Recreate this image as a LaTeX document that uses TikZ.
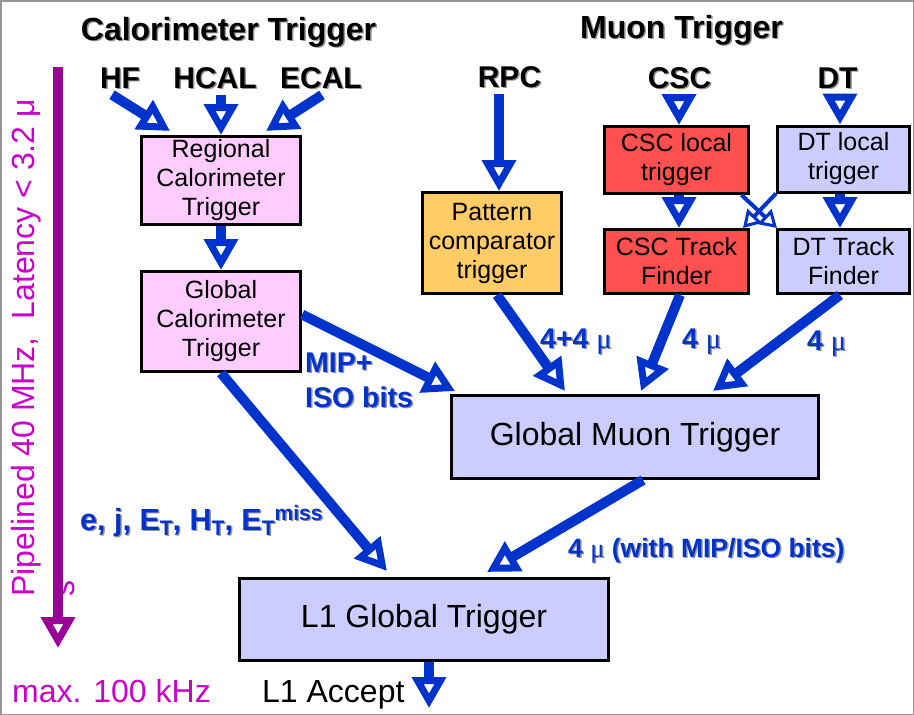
\documentclass[tikz,border=0pt]{standalone}
\usepackage{fontspec}
\setmainfont{Liberation Sans}
\newfontfamily\greekfont{Liberation Serif}
\usepackage{tikz}
\usetikzlibrary{arrows.meta}
\definecolor{arrowblue}{RGB}{0,51,204}
\definecolor{latpurple}{RGB}{153,0,153}
\definecolor{latmagenta}{RGB}{204,0,204}
\definecolor{calopink}{RGB}{255,204,255}
\definecolor{rpcorange}{RGB}{255,204,102}
\definecolor{cscred}{RGB}{255,80,80}
\definecolor{dtblue}{RGB}{204,204,255}
\definecolor{shadowgray}{RGB}{150,150,150}
\newcommand{\muchar}{{\greekfont\mdseries μ}}
\newcommand{\shtext}[1]{\makebox[0pt][l]{\hspace{1.5pt}\raisebox{-1.5pt}{\color{shadowgray}#1}}#1}
\newcommand{\lowT}{\raisebox{-5pt}{\fontsize{21}{21}\selectfont T}}
\newcommand{\blockfont}{\fontsize{25}{29}\selectfont}
\newcommand{\bigblockfont}{\fontsize{32}{36}\selectfont}
\newcommand{\headfont}{\fontsize{32}{36}\selectfont\bfseries}
\newcommand{\srcfont}{\fontsize{30}{34}\selectfont\bfseries}
\newcommand{\tagfont}{\fontsize{28.5}{35}\selectfont\bfseries}
\tikzstyle{block} = [rectangle, draw=black, line width=3pt, text centered,
align=center, inner sep=0pt, font=\blockfont]
\tikzstyle{calo} = [block, fill=calopink]
\tikzstyle{rpcbox} = [block, fill=rpcorange]
\tikzstyle{cscbox} = [block, fill=cscred]
\tikzstyle{dtbox} = [block, fill=dtblue]
\tikzstyle{globalbox} = [block, fill=dtblue, font=\bigblockfont]
\tikzstyle{headline} = [font=\headfont, inner sep=0pt, anchor=base]
\tikzstyle{source} = [font=\srcfont, inner xsep=0pt, inner ysep=5pt, anchor=base]
\tikzstyle{flowtag} = [font=\tagfont, text=arrowblue, inner sep=0pt, anchor=base west, align=left]
\tikzstyle{flow} = [line width=10pt, arrowblue,
-{Triangle[open, length=31pt, width=33pt, line width=7pt]}]
\tikzstyle{crossflow} = [line width=4pt, arrowblue,
-{Triangle[open, length=17pt, width=20pt, line width=3pt]}]
\tikzstyle{latarrow} = [line width=10pt, latpurple,
-{Triangle[open, length=31pt, width=33pt, line width=7pt]}]

\begin{document}
\begin{tikzpicture}[x=1pt, y=-1pt]
\useasboundingbox (0,0) rectangle (914,715);
\draw[shadowgray, line width=1.5pt] (0.75,0.75) rectangle (913.25,714.25);
%Headlines and sources
\node (calohead) [headline] at (228.5,40) {\shtext{Calorimeter Trigger}};
\node (muonhead) [headline] at (681.5,38) {\shtext{Muon Trigger}};
\node (hf) [source] at (120,88) {\shtext{HF}};
\node (hcal) [source] at (215,88) {\shtext{HCAL}};
\node (ecal) [source] at (321,88) {\shtext{ECAL}};
\node (rpc) [source] at (509.5,87) {\shtext{RPC}};
\node (csc) [source] at (679.5,88) {\shtext{CSC}};
\node (dt) [source] at (837.5,88) {\shtext{DT}};
%The blocks
\node (rct) [calo, minimum width=159pt, minimum height=88pt] at (221,180.5) {Regional\\Calorimeter\\Trigger};
\node (gct) [calo, minimum width=159pt, minimum height=100pt] at (221,321.5) {Global\\Calorimeter\\Trigger};
\node (pct) [rpcbox, minimum width=139pt, minimum height=101pt] at (492,243) {Pattern\\comparator\\trigger};
\node (csclt) [cscbox, minimum width=144pt, minimum height=67pt] at (676.5,160) {CSC local\\trigger};
\node (dtlt) [dtbox, minimum width=132pt, minimum height=66pt] at (843.5,159) {DT local\\trigger};
\node (csctf) [cscbox, minimum width=144pt, minimum height=64pt] at (676.5,261.5) {CSC Track\\Finder};
\node (dttf) [dtbox, minimum width=132pt, minimum height=64pt] at (843.5,261.5) {DT Track\\Finder};
\node (gmt) [globalbox, minimum width=367pt, minimum height=83pt] at (635,437) {Global Muon Trigger};
\node (l1) [globalbox, minimum width=369pt, minimum height=82pt] at (424,619.5) {L1 Global Trigger};
\coordinate (l1acc) at (429,708);
\coordinate (lattop) at (58,67);
\coordinate (latbot) at (58,648);
% Labels on the arrows
\node (mipiso) [flowtag] at (305,407) {\shtext{MIP+}\\\shtext{ISO bits}};
\node (calobits) [flowtag, font=\fontsize{30.5}{35}\selectfont\bfseries] at (80,530) {\shtext{e, j, E\lowT, H\lowT, E\lowT\raisebox{10pt}{\fontsize{21}{21}\selectfont miss}}};
\node (rpcmu) [flowtag] at (540,348) {\shtext{4+4 \muchar}};
\node (cscmu) [flowtag] at (682,348) {\shtext{4 \muchar}};
\node (dtmu) [flowtag] at (807,350) {\shtext{4 \muchar}};
\node (gmtmu) [flowtag, font=\fontsize{26.5}{30}\selectfont\bfseries] at (568,557) {\shtext{4 \muchar{} (with MIP/ISO bits)}};
% Rate and latency
\node (latency) [rotate=90, anchor=north west, align=left, inner sep=0pt, text=latmagenta,
font=\fontsize{32}{40}\selectfont] at (11,597) {Pipelined 40 MHz,~~Latency < 3.2 μ\\s};
\node (rate) [anchor=base west, inner sep=0pt, text=latmagenta, font=\fontsize{32}{36}\selectfont] at (12,702) {max. 100 kHz};
\node (accept) [anchor=base west, inner sep=0pt, font=\fontsize{32}{36}\selectfont] at (262,702) {L1 Accept};
% Drawing the arrows between blocks
\draw[latarrow] (lattop) -- (latbot);
\draw[flow] ([xshift=-8pt]hf.south) -- ([xshift=-51pt,yshift=4pt]rct.north);
\draw[flow] ([xshift=6pt]hcal.south) -- (rct.north);
\draw[flow] ([xshift=1pt]ecal.south) -- ([xshift=45pt,yshift=4pt]rct.north);
\draw[flow] (rct.south) -- (gct.north);
\draw[flow] ([yshift=7pt]gct.east) -- ([xshift=5pt,yshift=3pt]gmt.north west);
\draw[flow] (gct.south) -- ([xshift=-37pt,yshift=6pt]l1.north);
\draw[flow] ([xshift=-10.5pt]rpc.south) -- ([xshift=7pt]pct.north);
\draw[flow] ([xshift=-0.5pt]csc.south) -- ([xshift=2.5pt]csclt.north);
\draw[flow] ([xshift=2.5pt]dt.south) -- ([xshift=-3.5pt]dtlt.north);
\draw[flow] ([xshift=2.5pt]csclt.south) -- ([xshift=2.5pt]csctf.north);
\draw[flow] ([xshift=-3.5pt]dtlt.south) -- ([xshift=-3.5pt]dttf.north);
\draw[crossflow] ([xshift=-8.5pt]csclt.south east) -- ([xshift=1pt]dttf.north west);
\draw[crossflow] (dtlt.south west) -- ([xshift=-7pt]csctf.north east);
\draw[flow] ([xshift=5pt]pct.south) -- ([xshift=-70pt,yshift=3pt]gmt.north);
\draw[flow] ([xshift=3.5pt]csctf.south) -- ([xshift=6pt,yshift=3pt]gmt.north);
\draw[flow] ([xshift=-3.5pt]dttf.south) -- ([xshift=78pt,yshift=3pt]gmt.north);
\draw[flow] ([xshift=8pt]gmt.south) -- ([xshift=63pt,yshift=5pt]l1.north);
\draw[flow] ([xshift=5pt]l1.south) -- (l1acc);
\end{tikzpicture}
\end{document}
